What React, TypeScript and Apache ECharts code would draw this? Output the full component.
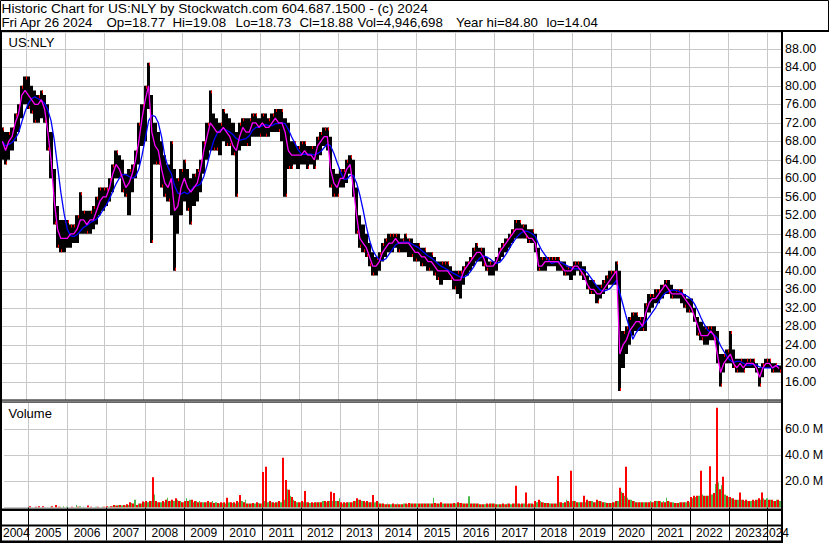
import React, { useEffect, useRef } from "react";
import * as echarts from "echarts";

const FONT = '"Liberation Sans", Arial, Helvetica, sans-serif';

// first plotted month: May 2004, one value per month
const firstYear = 2004;
const firstMonth = 5;
const axisStart = 2004.367;
const axisEnd = 2024.341;

const yearBoundaries = [2005, 2006, 2007, 2008, 2009, 2010, 2011, 2012, 2013, 2014, 2015, 2016, 2017, 2018, 2019, 2020, 2021, 2022, 2023, 2024];

const highs = [
  71, 70, 70, 71, 74, 76, 80, 82,
  82, 80, 79, 78, 79, 78, 76, 70, 62, 54, 51, 51,
  51, 50, 50, 52, 57, 53, 53, 53, 54, 56, 58, 58,
  58, 60, 63, 66, 65, 64, 61, 62, 63, 66, 72, 76,
  80, 85, 78, 72, 70, 68, 65, 63, 68, 62, 60, 62,
  64, 62, 60, 61, 62, 64, 68, 72, 79, 74, 73, 72,
  75, 74, 73, 72, 70, 72, 73, 73, 73, 74, 74, 73,
  74, 74, 73, 74, 75, 75, 75, 73, 72, 68, 68, 67,
  68, 68, 67, 67, 67, 69, 70, 71, 71, 69, 62, 61,
  62, 62, 64, 65, 64, 58, 52, 50, 48, 46, 44, 43,
  44, 46, 47, 48, 48, 48, 48, 47, 48, 47, 47, 46,
  46, 45, 45, 44, 44, 43, 42, 42, 42, 42, 41, 40,
  40, 40, 41, 42, 43, 45, 46, 45, 45, 43, 42, 42,
  43, 45, 46, 47, 48, 49, 51, 51, 50, 50, 49, 49,
  48, 45, 43, 43, 43, 43, 43, 43, 42, 42, 41, 41,
  42, 42, 42, 41, 39, 38, 38, 37, 37, 38, 39, 40,
  40, 42, 40, 27, 28, 30, 31, 31, 30, 30, 33, 35,
  35, 36, 36, 37, 38, 38, 37, 36, 36, 36, 35, 34,
  34, 32, 30, 29, 28, 28, 28, 28, 27, 22, 22, 23,
  27, 23, 21, 21, 21, 21, 21, 21, 20, 19, 20, 21,
  21, 20, 20, 19.5,
];

const lows = [
  64, 63, 64, 66, 68, 70, 73, 76,
  75, 74, 72, 72, 73, 72, 66, 60, 50, 45, 44, 44,
  45, 45, 46, 46, 48, 48, 48, 48, 49, 50, 52, 53,
  54, 55, 57, 60, 60, 57, 56, 52, 57, 60, 63, 67,
  68, 75, 46, 63, 63, 58, 56, 55, 52, 40, 48, 52,
  55, 53, 50, 54, 55, 57, 61, 64, 66, 66, 66, 65,
  68, 67, 67, 65, 56, 66, 67, 67, 67, 69, 69, 69,
  69, 69, 69, 70, 70, 70, 68, 56, 62, 62, 63, 62,
  63, 63, 62, 63, 62, 64, 65, 67, 66, 58, 56, 56,
  58, 58, 59, 61, 56, 48, 45, 44, 43, 41, 39, 39,
  40, 42, 43, 44, 44, 45, 44, 44, 44, 43, 43, 42,
  42, 41, 41, 40, 40, 39, 38, 37, 38, 38, 38, 36,
  35, 34, 37, 39, 40, 41, 42, 42, 41, 40, 39, 39,
  40, 42, 43, 44, 45, 46, 47, 47, 47, 47, 46, 46,
  44, 40, 40, 40, 41, 41, 41, 40, 40, 39, 39, 38,
  39, 40, 39, 38, 36, 35, 35, 33, 34, 35, 36, 37,
  37, 37, 14, 19, 22, 24, 26, 27, 27, 27, 27, 31,
  32, 33, 33, 34, 35, 35, 34, 34, 34, 33, 32, 31,
  31, 29, 26, 25, 24, 24, 25, 25, 20, 15, 18, 20,
  20, 19, 18, 18, 18, 19, 19, 19, 18, 15, 17, 19,
  19, 18, 18, 18,
];

const closes = [
  68, 66, 68, 69, 72, 74, 78, 79,
  78, 77, 76, 76, 77, 75, 70, 64, 55, 49, 47, 47,
  47, 48, 48, 49, 51, 51, 50, 51, 51, 53, 55, 56,
  56, 58, 61, 63, 62, 60, 58, 59, 61, 64, 68, 73,
  77, 80, 70, 67, 66, 62, 59, 58, 60, 53, 54, 58,
  60, 58, 57, 58, 59, 62, 66, 69, 72, 71, 70, 70,
  71, 70, 69, 67, 66, 69, 71, 70, 70, 72, 72, 71,
  72, 71, 71, 72, 73, 72, 72, 70, 66, 65, 65, 65,
  65, 66, 65, 65, 64, 67, 68, 69, 69, 62, 59, 58,
  60, 60, 62, 63, 58, 52, 47, 46, 45, 43, 41, 41,
  42, 44, 45, 46, 46, 47, 46, 46, 46, 46, 45, 44,
  44, 43, 43, 42, 42, 41, 40, 40, 40, 40, 39, 38,
  38, 38, 40, 41, 42, 43, 44, 44, 43, 41, 41, 41,
  42, 44, 45, 46, 47, 48, 49, 49, 49, 48, 47, 47,
  46, 41, 41, 42, 42, 42, 42, 42, 41, 40, 40, 40,
  41, 41, 40, 39, 37, 36, 36, 35, 35, 36, 37, 38,
  39, 40, 22, 24, 25, 27, 28, 29, 29, 28, 31, 33,
  34, 34, 35, 36, 37, 36, 35, 35, 35, 35, 34, 33,
  32, 30, 28, 26, 26, 26, 27, 26, 22, 18, 20, 21,
  22, 20, 19, 20, 19, 20, 20, 20, 19, 17, 19, 20,
  20, 19, 19.5, 18.9,
];

// volume in millions, on down days (red) and up days (green)
const volumeDown = [
  0, 0, 0, 0, 0, 0, 0, 0,
  1, 0, 0.5, 1, 1, 0, 0, 1, 2, 0.5, 0, 0,
  0, 0.5, 0, 0.5, 0, 0, 1.5, 0.5, 0, 0.5, 0, 0.5,
  1, 1, 2, 1.5, 2, 2, 2.5, 4, 3, 2, 3, 4.5,
  5, 5, 23, 5, 4, 5, 6, 5, 6, 7, 5, 4,
  5, 5, 6, 5, 4, 4, 4, 5, 4, 3.5, 3.5, 4,
  4, 7.5, 4, 4, 5, 9.5, 4, 3, 3, 3.5, 4, 3,
  27, 31, 5, 4, 4, 5, 38, 21, 13.5, 8, 5, 4,
  5, 12.5, 4, 4, 4, 4, 4, 5, 5, 12, 11, 5,
  4, 4, 4, 4, 5, 7, 6, 5, 5, 4, 9.5, 5,
  3, 3, 2.5, 2.5, 3, 2.5, 2.5, 2.5, 3, 3.5, 3, 3,
  3, 3, 3, 3, 3, 3.5, 3, 4, 3, 3, 3, 3.5,
  4, 3.5, 3, 3, 3, 3, 3, 2.5, 2.5, 3, 3, 3,
  2.5, 2.5, 3, 2.5, 3, 3, 16.5, 3, 3, 11.5, 3, 3,
  5, 6, 4, 3.5, 3.5, 3, 3, 24, 4, 4, 5, 28,
  5, 4, 4, 9, 6, 5, 4, 6, 5, 4, 3.5, 3.5,
  4, 5, 15, 11, 31, 6, 5, 4, 4, 4, 4, 4,
  4, 5, 5, 4, 4, 5, 4, 3.5, 3.5, 4, 4, 5,
  8, 9, 9, 28, 9, 9, 31.5, 11, 76, 14, 23.5, 9,
  8, 7, 6, 11.5, 6, 6, 5, 6, 6, 7, 11.5, 6,
  6, 6, 5, 6,
];

const volumeUp = [
  0, 0, 0, 0, 0, 0, 0, 0,
  0, 0, 0, 0, 0, 0, 0.5, 0, 0, 0.5, 1, 0.5,
  0, 0, 2, 1, 0.5, 0, 0, 0, 0.5, 0, 0.5, 0,
  0.5, 1, 1.5, 2, 1.5, 1.5, 2, 3.5, 6, 3, 3, 4,
  4, 5, 10, 4, 4, 4, 7.5, 5, 5, 6, 5, 4,
  7, 6, 4, 5, 5, 4, 4, 4, 5, 4, 3, 3.5,
  3, 4, 3.5, 3, 4, 5, 6, 3, 3, 3, 3.5, 3,
  5, 4, 4, 3.5, 4, 4, 6, 14, 9, 6, 4, 4,
  4, 4, 3.5, 3.5, 4, 4, 5, 4, 5, 5, 5, 7,
  3, 3.5, 4, 4, 5, 6, 5, 4, 4, 4, 4, 4,
  3, 2.5, 3, 2.5, 2.5, 3, 2.5, 3, 2.5, 3, 3, 3,
  3, 3, 3, 3, 7.5, 3, 3, 3, 3, 3, 3, 3,
  3.5, 3, 3, 8.5, 3, 3, 3, 2.5, 2.5, 2.5, 3, 3,
  2.5, 2.5, 2.5, 3, 2.5, 3, 3, 2.5, 3, 2.5, 3, 2.5,
  4, 5, 4, 3.5, 3, 3, 3, 4, 3.5, 6, 4, 5,
  5, 4, 4, 4, 5, 5, 4, 5, 4.5, 4, 3.5, 3.5,
  4, 5, 12, 9, 7.5, 6, 5, 4, 4, 4, 4, 5,
  4, 5, 5, 5, 7.5, 4.5, 4, 3.5, 4, 4, 4, 4,
  7, 8, 9, 10, 9, 9, 10, 18, 19, 17, 10, 8,
  7, 6, 6, 6, 5, 5, 5, 5, 6, 6, 7, 7,
  6, 5, 6, 5,
];

const headerTitle = "Historic Chart for US:NLY by Stockwatch.com 604.687.1500 - (c) 2024";
const headerQuote = ["Fri Apr 26 2024", "Op=18.77", "Hi=19.08", "Lo=18.73", "Cl=18.88", "Vol=4,946,698", "Year hi=84.80", "lo=14.04"];

function monthTime(i: number) {
  return firstYear + (firstMonth - 1 + i + 0.5) / 12;
}

function movingAverage(values: number[], n: number) {
  return values.map((_, i) => {
    const s = Math.max(0, i - n + 1);
    const part = values.slice(s, i + 1);
    return part.reduce((a, b) => a + b, 0) / part.length;
  });
}

function buildOption() {
  const barData = closes.map((c, i) => [monthTime(i), lows[i], highs[i], c, i > 0 ? closes[i - 1] : c]);
  const magenta = closes.map((c, i) => [monthTime(i), c]);
  const slow = movingAverage(closes, 5).map((v, i) => [monthTime(i), v]);
  const volData = volumeDown.map((d, i) => [monthTime(i), d, volumeUp[i]]);
  const lastYear = yearBoundaries[yearBoundaries.length - 1];
  const labelValues = [(axisStart + yearBoundaries[0]) / 2]
    .concat(yearBoundaries.slice(0, -1).map((y) => y + 0.5))
    .concat([lastYear + (axisEnd - lastYear) * 0.6]);

  const gridColor = "#c8c8c8";
  const half = 1 / 24;

  const quoteX = [1.5, 106.5, 172.5, 235.5, 299.5, 357.5, 456, 546.5];

  const txt = (text: string, x: number, y: number, size = 13) => ({
    type: "text",
    z: 200,
    style: { text, x, y, fill: "#000", font: `${size}px ${FONT}`, verticalAlign: "middle", align: "left" },
  });
  const box = (x: number, y: number, w: number, h: number) => ({
    type: "rect",
    z: 150,
    shape: { x, y, width: w, height: h },
    style: { fill: "#000" },
  });

  return {
    animation: false,
    backgroundColor: "#ffffff",
    textStyle: { fontFamily: FONT },
    grid: [
      { left: 2, top: 32, width: 779, height: 368.3 },
      { left: 2, top: 402.5, width: 779, height: 105 },
    ],
    xAxis: [
      {
        type: "value",
        gridIndex: 0,
        min: axisStart,
        max: axisEnd,
        axisLine: { show: false },
        axisTick: { show: false, customValues: yearBoundaries },
        axisLabel: { show: false, customValues: yearBoundaries },
        splitLine: { show: true, lineStyle: { color: gridColor, width: 1 } },
      },
      {
        type: "value",
        gridIndex: 1,
        min: axisStart,
        max: axisEnd,
        axisLine: { show: false },
        axisTick: { show: true, customValues: yearBoundaries, length: 33, lineStyle: { color: "#000", width: 1 } },
        axisLabel: {
          show: true,
          customValues: labelValues,
          formatter: (v: number) => String(Math.floor(v)),
          margin: 19,
          fontSize: 12,
          color: "#000",
          fontFamily: FONT,
          showMinLabel: true,
          showMaxLabel: true,
          hideOverlap: false,
        },
        splitLine: { show: true, lineStyle: { color: gridColor, width: 1 } },
      },
    ],
    yAxis: [
      {
        type: "value",
        gridIndex: 0,
        position: "right",
        min: 12,
        max: 91.63,
        interval: 4,
        axisLine: { show: false },
        axisTick: { show: false },
        axisLabel: {
          formatter: (v: number) => v.toFixed(2),
          showMinLabel: false,
          showMaxLabel: false,
          margin: 4,
          fontSize: 12.5,
          color: "#000",
          fontFamily: FONT,
        },
        splitLine: { show: true, lineStyle: { color: gridColor, width: 1 } },
      },
      {
        type: "value",
        gridIndex: 1,
        position: "right",
        min: 0,
        max: 80,
        interval: 20,
        axisLine: { show: false },
        axisTick: { show: false },
        axisLabel: {
          formatter: (v: number) => v.toFixed(1) + " M",
          showMinLabel: false,
          showMaxLabel: false,
          margin: 4,
          fontSize: 12.5,
          color: "#000",
          fontFamily: FONT,
        },
        splitLine: { show: true, lineStyle: { color: gridColor, width: 1 } },
      },
    ],
    series: [
      {
        type: "custom",
        name: "price",
        xAxisIndex: 0,
        yAxisIndex: 0,
        clip: true,
        z: 2,
        encode: { x: 0, y: [1, 2] },
        data: barData,
        renderItem: (params: any, api: any) => {
          const t = api.value(0);
          const lo = api.value(1);
          const hi = api.value(2);
          const cl = api.value(3);
          const pc = api.value(4);
          const top = api.coord([t, hi]);
          const bot = api.coord([t, lo]);
          const xl = Math.round(api.coord([t - half, hi])[0]);
          const xr = Math.round(api.coord([t + half, hi])[0]);
          const h = Math.max(1, bot[1] - top[1]);
          const down = cl < pc;
          const ry = down ? bot[1] - 3 : top[1];
          return {
            type: "group",
            children: [
              { type: "rect", shape: { x: xl, y: top[1], width: xr - xl, height: h }, style: { fill: "#000" } },
              { type: "rect", shape: { x: xr - 1, y: ry, width: 1, height: 3 }, style: { fill: "#ff0000" } },
            ],
          };
        },
      },
      {
        type: "line",
        name: "slow",
        xAxisIndex: 0,
        yAxisIndex: 0,
        data: slow,
        showSymbol: false,
        z: 3,
        lineStyle: { color: "#0000ff", width: 1.3 },
      },
      {
        type: "line",
        name: "fast",
        xAxisIndex: 0,
        yAxisIndex: 0,
        data: magenta,
        showSymbol: false,
        z: 4,
        lineStyle: { color: "#ff00ff", width: 1.3 },
      },
      {
        type: "custom",
        name: "volume",
        xAxisIndex: 1,
        yAxisIndex: 1,
        clip: true,
        z: 2,
        encode: { x: 0, y: [1, 2] },
        data: volData,
        renderItem: (params: any, api: any) => {
          const t = api.value(0);
          const dn = api.value(1);
          const up = api.value(2);
          const base = api.coord([t, 0]);
          const xl = Math.round(api.coord([t - half, 0])[0]);
          const xr = Math.round(api.coord([t + half, 0])[0]);
          const xm = xl + 2;
          const children: any[] = [];
          if (dn > 0) {
            const p = api.coord([t, dn]);
            children.push({ type: "rect", shape: { x: xl, y: p[1], width: xm - xl, height: base[1] - p[1] }, style: { fill: "#ff0000" } });
          }
          if (up > 0) {
            const p = api.coord([t, up]);
            children.push({ type: "rect", shape: { x: xm, y: p[1], width: Math.max(1, xr - xm), height: base[1] - p[1] }, style: { fill: "#4cb84c" } });
          }
          return { type: "group", children };
        },
      },
    ],
    graphic: {
      elements: [
        { type: "rect", z: 150, shape: { x: 0.5, y: 0.5, width: 828, height: 31 }, style: { fill: "none", stroke: "#000", lineWidth: 1 } },
        box(0, 30, 829, 2),
        box(0, 30, 2, 513),
        box(781, 30, 2, 513),
        box(0, 399.5, 781, 1),
        box(0, 401.5, 781, 1),
        box(0, 508.5, 783, 2.5),
        box(0, 524.5, 781, 2),
        box(0, 540.5, 783, 2.5),
        txt(headerTitle, 1.5, 8, 13.7),
        ...headerQuote.map((s, i) => txt(s, quoteX[i], 22, 13.3)),
        txt("US:NLY", 8.5, 42),
        txt("Volume", 8.5, 413),
      ],
    },
  };
}

export default function App() {
  const ref = useRef<HTMLDivElement>(null);
  useEffect(() => {
    if (!ref.current) return;
    const chart = echarts.init(ref.current, null, { renderer: "svg" });
    chart.setOption(buildOption() as any);
    return () => chart.dispose();
  }, []);
  return (
    <div
      ref={ref}
      style={{ position: "absolute", left: 0, top: 0, width: 830, height: 543, background: "#fff" }}
    />
  );
}
